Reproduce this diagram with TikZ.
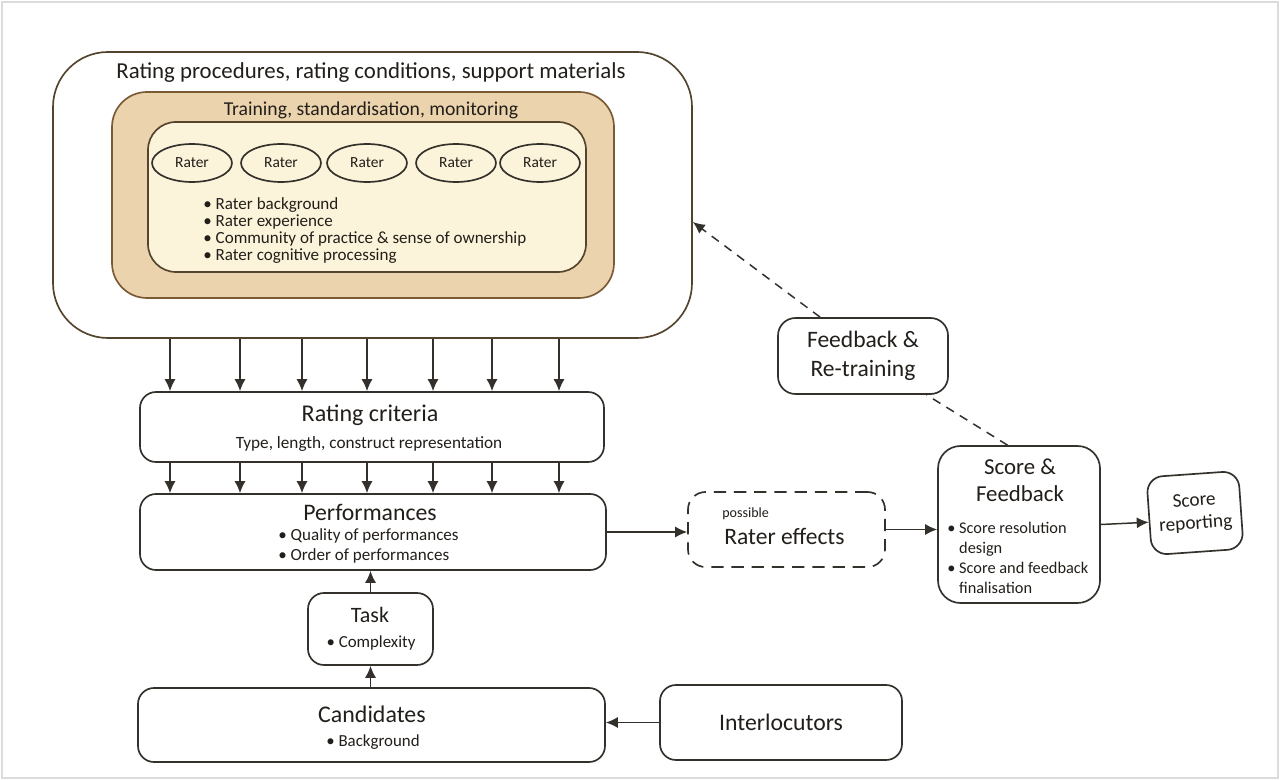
\documentclass[tikz,border=0pt]{standalone}
\usepackage{fontspec}
\setmainfont{Carlito}
\usetikzlibrary{arrows.meta,shapes.geometric,calc}
\definecolor{lc}{HTML}{34302C}
\definecolor{tc}{HTML}{221E1A}
\definecolor{outerlc}{HTML}{54442E}
\definecolor{midfill}{HTML}{EBD3AD}
\definecolor{midlc}{HTML}{7A5A35}
\definecolor{innerfill}{HTML}{FCF4DA}
\definecolor{framec}{HTML}{DCDCDC}
\tikzset{
  sz/.style 2 args={minimum width=#1*0.02cm, minimum height=#2*0.02cm},
  box/.style={draw=lc, line width=0.95pt, inner sep=0pt, rounded corners=0.32cm},
  txt/.style={text=tc, inner sep=0pt},
  arr/.style={draw=lc, line width=0.85pt, -{Latex[length=6.8pt,width=6.3pt]}},
  dsh/.style={draw=lc, line width=0.85pt, dash pattern=on 5pt off 4pt},
  rater/.style={ellipse, draw=lc, line width=0.95pt, minimum width=1.6cm, minimum height=0.76cm, inner sep=0pt, font=\fontsize{8.8}{10}\selectfont, text=tc},
}
\begin{document}
\begin{tikzpicture}[x=0.02cm,y=-0.02cm]
\useasboundingbox (0,0) rectangle (1280,780);
\fill[white] (0,0) rectangle (1280,780);
\draw[framec, line width=1.6pt] (2,2) rectangle (1278,778);

% nested rating-procedure boxes
\node[box, sz={639}{286}, draw=outerlc, rounded corners=1.1cm, fill=white] (outer) at (372.5,195) {};
\node[box, sz={502}{206}, draw=midlc, rounded corners=0.7cm, fill=midfill] (mid) at (363,195) {};
\node[box, sz={438}{150}, draw=outerlc, rounded corners=0.56cm, fill=innerfill] (inner) at (367,197) {};
\node[txt, font=\fontsize{13}{15}\selectfont] (tproc) at (371,73) {Rating procedures, rating conditions, support materials};
\node[txt, font=\fontsize{11.2}{13}\selectfont] (ttrain) at (371,110) {Training, standardisation, monitoring};
\node[rater] (r1) at (192,163) {Rater};
\node[rater] (r2) at (281,163) {Rater};
\node[rater] (r3) at (367,163) {Rater};
\node[rater] (r4) at (456,163) {Rater};
\node[rater] (r5) at (540,163) {Rater};
\node[txt, anchor=west, align=left, font=\fontsize{9.7}{9.7}\selectfont] (rbul) at (203,230.5)
  {\textbullet\ Rater background\\ \textbullet\ Rater experience\\ \textbullet\ Community of practice \& sense of ownership\\ \textbullet\ Rater cognitive processing};

% rating criteria
\node[box, sz={464}{70}] (rc) at (372,427) {};
\node[txt, font=\fontsize{13.7}{15}\selectfont] (trc) at (370,415) {Rating criteria};
\node[txt, font=\fontsize{9.8}{11}\selectfont] (trc2) at (369,444) {Type, length, construct representation};

% performances
\node[box, sz={466}{76}] (perf) at (373,532) {};
\node[txt, font=\fontsize{13.5}{15}\selectfont] (tperf) at (370,512) {Performances};
\node[txt, anchor=west, align=left, font=\fontsize{9.7}{11.4}\selectfont] (tperf2) at (278,546)
  {\textbullet\ Quality of performances\\ \textbullet\ Order of performances};

\foreach \x in {170,240,302,367,433,492,559}{
  \draw[arr] (\x,0 |- outer.south) -- (\x,0 |- rc.north);
  \draw[arr] (\x,0 |- rc.south) -- (\x,0 |- perf.north);
}

% task, candidates, interlocutors
\node[box, sz={125}{72}] (task) at (370.5,629) {};
\node[txt, font=\fontsize{12.5}{15}\selectfont] (ttask) at (370,615) {Task};
\node[txt, font=\fontsize{9.6}{10}\selectfont] (ttask2) at (371,643) {\textbullet\ Complexity};
\node[box, sz={467}{74}] (cand) at (371.5,725) {};
\node[txt, font=\fontsize{13.6}{15}\selectfont] (tcand) at (372,714) {Candidates};
\node[txt, font=\fontsize{9.6}{10}\selectfont] (tcand2) at (373,742) {\textbullet\ Background};
\node[box, sz={242}{75}, font=\fontsize{13.5}{15}\selectfont, text=tc] (inter) at (781,722.5) {Interlocutors};

\draw[arr] (task.north) -- (task.north |- perf.south);
\draw[arr] (task.south |- cand.north) -- (task.south);
\draw[arr] (inter.west) -- (inter.west -| cand.east);

% rater effects
\node[box, sz={197}{75}, dash pattern=on 7pt off 4.5pt, rounded corners=0.35cm] (re) at (786.5,529.5) {};
\node[txt, anchor=west, font=\fontsize{8}{10}\selectfont] (tposs) at (722,514) {possible};
\node[txt, anchor=west, font=\fontsize{13.4}{15}\selectfont] (tre) at (724,536) {Rater effects};

% score & feedback
\node[box, sz={162}{157}, rounded corners=0.45cm] (sf) at (1019,524.5) {};
\node[txt, align=center, font=\fontsize{13}{15.4}\selectfont] (tsf) at (1020,480.5) {Score \&\\Feedback};
\node[txt, anchor=west, align=left, font=\fontsize{9.3}{11.4}\selectfont] (tsf2) at (947,558)
  {\textbullet\ Score resolution\\ \hphantom{\textbullet\ }design\\ \textbullet\ Score and feedback\\ \hphantom{\textbullet\ }finalisation};

% score reporting
\node[box, sz={92}{78}, rotate=4, align=center, font=\fontsize{11}{13}\selectfont, text=tc] (sr) at (1195,513) {Score\\reporting};

% feedback & re-training
\node[box, sz={170}{76}, rounded corners=0.35cm, align=center, font=\fontsize{13.4}{16.5}\selectfont, text=tc] (fr) at (863,356) {Feedback \&\\Re-training};

\draw[arr] (perf.east) -- (perf.east -| re.west);
\draw[arr] (re.east) -- (re.east -| sf.west);
\draw[arr] (sf.east) -- ($(sr.west)!0.15!(sr.south west)$);
\draw[dsh] ($(sf.north west)!0.43!(sf.north east)$) -- ($(fr.south west)!0.87!(fr.south east)$);
\draw[dsh, -{Latex[length=6.8pt,width=6.3pt]}] ($(fr.north west)!0.25!(fr.north east)$) -- ($(outer.east)+(0,27)$);
\end{tikzpicture}
\end{document}
